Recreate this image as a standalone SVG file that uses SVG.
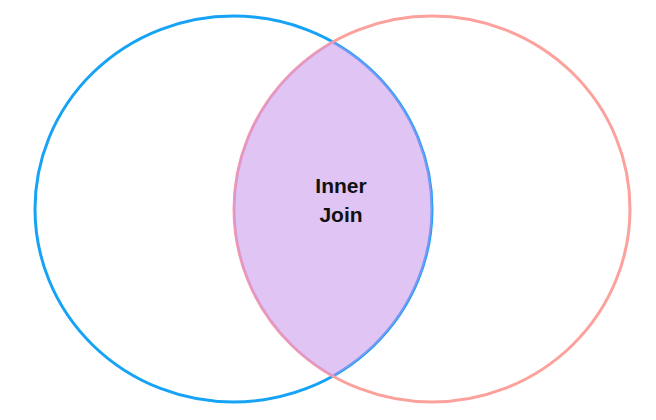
<svg xmlns="http://www.w3.org/2000/svg" width="656" height="420" viewBox="0 0 656 420">
<style>
.lbl{font-family:"Liberation Sans",Arial,sans-serif;font-weight:bold;font-size:21px;fill:#111;text-anchor:middle}
</style>
<rect width="656" height="420" fill="#fff"/>
<g id="intersection-base">
<path d="M 332.75 41.9 A 198.5 193 0 0 1 332.75 376.1 A 198 193 0 0 1 332.75 41.9 Z" fill="#f4f8f6"/>
</g>
<g id="left-set">
<ellipse cx="233.5" cy="209" rx="198.5" ry="193" fill="none" stroke="#17a3f5" stroke-width="3"/>
</g>
<g id="right-set">
<ellipse cx="432" cy="209" rx="198" ry="193" fill="none" stroke="#fca19c" stroke-width="3"/>
</g>
<g id="inner-join">
<path d="M 332.75 41.9 A 198.5 193 0 0 1 332.75 376.1 A 198 193 0 0 1 332.75 41.9 Z" fill="#ca90f2" fill-opacity="0.5" stroke="#ca90f2" stroke-opacity="0.35" stroke-width="1.5"/>
<text class="lbl" x="341" y="193">Inner</text>
<text class="lbl" x="341" y="222">Join</text>
</g>
</svg>
